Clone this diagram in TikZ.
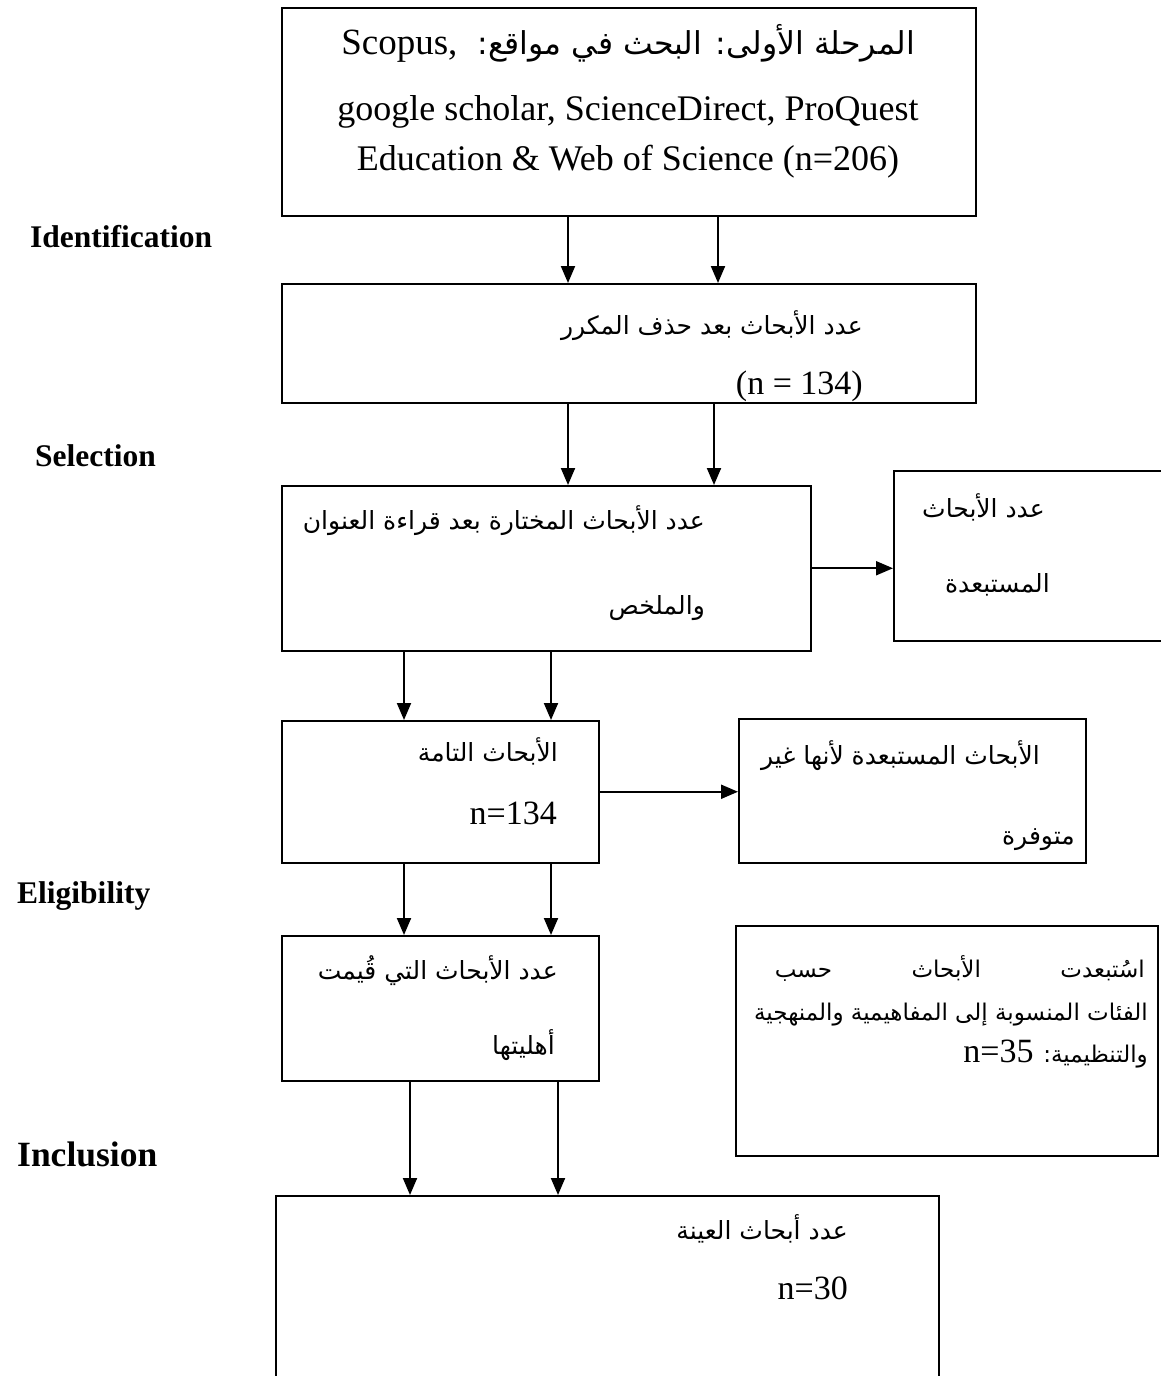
\documentclass[tikz,border=0pt]{standalone}
\usepackage{fontspec}
\setmainfont{Liberation Serif}
\newfontfamily\arabicfont[Script=Arabic]{DejaVu Sans}
\TeXXeTstate=1
\usetikzlibrary{arrows.meta}
\begin{document}
\begin{tikzpicture}[x=1pt,y=-1pt,
 box/.style={draw, line width=1.5pt, inner sep=0pt, anchor=north west},
 arr/.style={line width=2pt, -{Triangle[length=17pt,width=14pt]}},
 stage/.style={font=\bfseries\fontsize{31.5}{36}\selectfont, anchor=mid west, inner sep=0pt},
 lat/.style={font=\fontsize{34}{40}\selectfont, inner sep=0pt, anchor=mid east},
 arb/.style={font=\arabicfont\fontsize{25}{30}\selectfont, inner sep=0pt, anchor=mid east},
 arbs/.style={font=\arabicfont\fontsize{23}{28}\selectfont, inner sep=0pt, anchor=mid east}]
\useasboundingbox (0,0) rectangle (1160,1376);
\fill[white] (0,0) rectangle (1160,1376);
% boxes
\node[box, minimum width=694pt, minimum height=208pt] (b1) at (281,7) {};
\node[box, minimum width=694pt, minimum height=119pt] (b2) at (281,283) {};
\node[box, minimum width=529pt, minimum height=165pt] (b3) at (281,485) {};
\node[box, minimum width=320pt, minimum height=170pt] (b4) at (893,470) {};
\node[box, minimum width=317pt, minimum height=142pt] (b5) at (281,720) {};
\node[box, minimum width=347pt, minimum height=144pt] (b6) at (738,718) {};
\node[box, minimum width=317pt, minimum height=145pt] (b7) at (281,935) {};
\node[box, minimum width=422pt, minimum height=230pt] (b8) at (735,925) {};
\node[box, minimum width=663pt, minimum height=250pt] (b9) at (275,1195) {};
% stage labels
\node[stage] (sI) at (30,245) {Identification};
\node[stage] (sS) at (35,464) {Selection};
\node[stage] (sE) at (17,901) {Eligibility};
\node[stage, font=\bfseries\fontsize{35.5}{40}\selectfont] (sN) at (17,1164) {Inclusion};
% arrow columns
\coordinate (xa) at (568,0);
\coordinate (xb) at (718,0);
\coordinate (xc) at (714,0);
\coordinate (xd) at (404,0);
\coordinate (xe) at (551,0);
\coordinate (xf) at (410,0);
\coordinate (xg) at (558,0);
\draw[arr] (b1.south -| xa) -- (b2.north -| xa);
\draw[arr] (b1.south -| xb) -- (b2.north -| xb);
\draw[arr] (b2.south -| xa) -- (b3.north -| xa);
\draw[arr] (b2.south -| xc) -- (b3.north -| xc);
\draw[arr] (b3.south -| xd) -- (b5.north -| xd);
\draw[arr] (b3.south -| xe) -- (b5.north -| xe);
\draw[arr] (b5.south -| xd) -- (b7.north -| xd);
\draw[arr] (b5.south -| xe) -- (b7.north -| xe);
\draw[arr] (b7.south -| xf) -- (b9.north -| xf);
\draw[arr] (b7.south -| xg) -- (b9.north -| xg);
\draw[arr] (b3.east) -- (b3.east -| b4.west);
\draw[arr] (b5.east) -- (b5.east -| b6.west);
% box 1 text
\node[inner sep=0pt, anchor=mid] (t1a) at (628,52) {\arabicfont\fontsize{31.5}{34}\selectfont\beginR المرحلة الأولى: البحث في مواقع:\ \ {\rmfamily\fontsize{37}{40}\selectfont\beginL Scopus,\endL}\endR};
\node[inner sep=0pt, anchor=mid, font=\fontsize{36}{40}\selectfont] (t1b) at (628,118) {google scholar, ScienceDirect, ProQuest};
\node[inner sep=0pt, anchor=mid, font=\fontsize{36}{40}\selectfont] (t1c) at (628,168) {Education \& Web of Science (n=206)};
% box 2
\node[arb] (t2a) at (863,332) {\beginR عدد الأبحاث بعد حذف المكرر\endR};
\node[lat] (t2b) at (863,392) {(n = 134)};
% box 3
\node[arb] (t3a) at (705,527) {\beginR عدد الأبحاث المختارة بعد قراءة العنوان\endR};
\node[arb] (t3b) at (705,612) {\beginR والملخص\endR};
% box 4
\node[arb] (t4a) at (1045,515) {\beginR عدد الأبحاث\endR};
\node[arb] (t4b) at (1050,590) {\beginR المستبعدة\endR};
% box 5
\node[arb] (t5a) at (558,759) {\beginR الأبحاث التامة\endR};
\node[lat] (t5b) at (557,822) {n=134};
% box 6
\node[arb] (t6a) at (1040,762) {\beginR الأبحاث المستبعدة لأنها غير\endR};
\node[arb] (t6b) at (1075,842) {\beginR متوفرة\endR};
% box 7
\node[arb] (t7a) at (558,977) {\beginR عدد الأبحاث التي قُيمت\endR};
\node[arb] (t7b) at (555,1052) {\beginR أهليتها\endR};
% box 8
\node[arbs] (t8a) at (1145,975) {\hbox to 370pt{\beginR اسُتبعدت\hfill الأبحاث\hfill حسب\endR}};
\node[arbs] (t8b) at (1148,1018) {\beginR الفئات المنسوبة إلى المفاهيمية والمنهجية\endR};
\node[arbs] (t8c) at (1148,1060) {\beginR والتنظيمية: {\rmfamily\fontsize{34}{40}\selectfont\beginL n=35\endL}\endR};
% box 9
\node[arb] (t9a) at (848,1237) {\beginR عدد أبحاث العينة\endR};
\node[lat] (t9b) at (848,1297) {n=30};
\end{tikzpicture}
\end{document}
